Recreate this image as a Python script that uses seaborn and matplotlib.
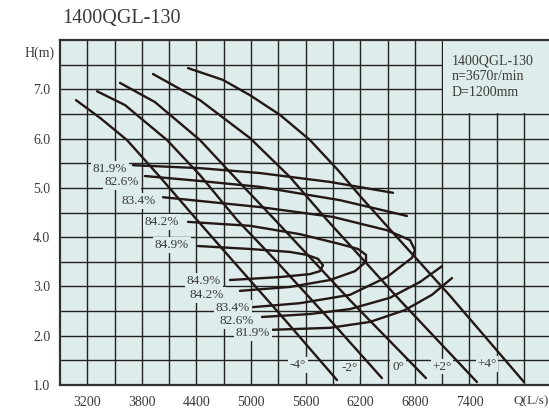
import numpy as np
import pandas as pd
import matplotlib
matplotlib.use("Agg")
import matplotlib.pyplot as plt
from matplotlib.patches import Rectangle
import seaborn as sns

# pump curves (Q in L/s, H in m) for each blade angle
angles = ["-4°", "-2°", "0°", "+2°", "+4°"]
q_m4 = [3076, 3340, 3636, 3999, 4405, 4790, 5373, 5944]
h_m4 = [6.78, 6.42, 5.97, 5.22, 4.35, 3.54, 2.32, 1.10]
q_m2 = [3307, 3614, 4076, 4438, 4845, 5263, 5867, 6438]
h_m2 = [6.96, 6.68, 5.97, 5.26, 4.35, 3.54, 2.32, 1.14]
q_0 = [3559, 3944, 4438, 4878, 5263, 6087, 6922]
h_0 = [7.13, 6.74, 5.97, 5.10, 4.35, 2.72, 1.14]
q_p2 = [3922, 4438, 4988, 5427, 5834, 6636, 7482]
h_p2 = [7.31, 6.78, 6.01, 5.22, 4.35, 2.72, 1.06]
q_p4 = [4307, 4691, 4988, 5318, 5647, 5955, 6219, 6471, 7186, 7999]
h_p4 = [7.43, 7.19, 6.88, 6.48, 5.97, 5.36, 4.79, 4.27, 2.81, 1.06]

# efficiency contours
q_819a = [3702, 4438, 5098, 5867, 6559]
h_819a = [5.46, 5.40, 5.30, 5.12, 4.90]
q_826a = [3834, 4438, 5098, 5977, 6713]
h_826a = [5.24, 5.14, 5.02, 4.75, 4.43]
q_834 = [4032, 5098, 5900, 6493, 6746, 6801, 6768, 6493, 6087, 5537, 5021]
h_834 = [4.81, 4.61, 4.41, 4.14, 3.94, 3.74, 3.58, 3.19, 2.83, 2.66, 2.58]
q_842 = [4307, 4988, 5537, 5977, 6175, 6263, 6263, 6142, 5867, 5427, 4878]
h_842 = [4.31, 4.23, 4.06, 3.86, 3.76, 3.64, 3.50, 3.31, 3.13, 2.99, 2.91]
q_849 = [4416, 4988, 5427, 5614, 5735, 5790, 5757, 5647, 5318, 4768]
h_849 = [3.82, 3.76, 3.70, 3.64, 3.56, 3.43, 3.31, 3.25, 3.19, 3.13]
q_826b = [5120, 5647, 6087, 6526, 6856, 7098]
h_826b = [2.38, 2.44, 2.54, 2.77, 3.09, 3.41]
q_819b = [5230, 5867, 6307, 6691, 6988, 7208]
h_819b = [2.12, 2.16, 2.28, 2.52, 2.83, 3.17]

eff_labels_top = ["81.9%", "82.6%", "83.4%", "84.2%", "84.9%"]
eff_top_q = [3449, 3581, 3768, 4021, 4131]
eff_top_h = [5.38, 5.12, 4.73, 4.31, 3.84]
eff_labels_bot = ["84.9%", "84.2%", "83.4%", "82.6%", "81.9%"]
eff_bot_q = [4482, 4515, 4801, 4845, 5021]
eff_bot_h = [3.11, 2.83, 2.56, 2.30, 2.05]
angle_q = [5515, 6087, 6614, 7098, 7592]
angle_h = [1.41, 1.34, 1.37, 1.37, 1.43]

x_ticks = [3200, 3800, 4400, 5000, 5600, 6200, 6800, 7400]
y_ticks = [1.0, 2.0, 3.0, 4.0, 5.0, 6.0, 7.0]

bg = "#deecec"
ink = "#231815"
txt = "#3a3a3a"
serif = "Liberation Serif"

sns.set_style("white")
plt.rcParams["font.family"] = [serif, "DejaVu Sans"]

fig = plt.figure(figsize=(5.49, 4.09), dpi=100)
ax = fig.add_axes([60 / 549, 24 / 409, 489 / 549, 345 / 409])
ax.set_facecolor(bg)
ax.set_xlim(2900, 8274)
ax.set_ylim(1.0, 8.0)

ax.set_xticks(x_ticks)
ax.set_xticklabels([str(v) for v in x_ticks])
ax.set_xticks(np.arange(3200, 8300, 300), minor=True)
ax.set_yticks(y_ticks)
ax.set_yticklabels([f"{v:.1f}" for v in y_ticks])
ax.set_yticks(np.arange(1.5, 8.0, 0.5), minor=True)
ax.grid(which="both", color="#222222", lw=1.0, zorder=0)
ax.set_axisbelow(True)
ax.tick_params(which="both", length=0)
ax.tick_params(axis="x", pad=8, labelsize=10, labelcolor=txt)
ax.tick_params(axis="y", pad=7, labelsize=10, labelcolor=txt)
for s in ["left", "top", "bottom"]:
    ax.spines[s].set_color("#333333")
    ax.spines[s].set_linewidth(1.6)
ax.spines["right"].set_visible(False)

# info box over grid
ax.add_patch(Rectangle((7110, 6.51), 1300, 1.6, facecolor=bg, edgecolor="none", zorder=1))
ax.text(7208, 7.25, "1400QGL-130\nn=3670r/min\nD=1200mm", fontsize=10, color=txt,
        va="center", ha="left", linespacing=1.25, zorder=2)

curves = [(q_m4, h_m4), (q_m2, h_m2), (q_0, h_0), (q_p2, h_p2), (q_p4, h_p4),
          (q_819a, h_819a), (q_826a, h_826a), (q_834, h_834), (q_842, h_842),
          (q_849, h_849), (q_826b, h_826b), (q_819b, h_819b)]
for q, h in curves:
    df = pd.DataFrame({"Q": q, "H": h})
    sns.lineplot(data=df, x="Q", y="H", sort=False, estimator=None, color=ink,
                 lw=1.7, ax=ax, zorder=3)

box = dict(facecolor=bg, edgecolor="none", pad=1.2)
for lab, q, h in zip(eff_labels_top + eff_labels_bot, eff_top_q + eff_bot_q,
                     eff_top_h + eff_bot_h):
    ax.text(q, h, lab, fontsize=9.5, color=txt, ha="center", va="center", bbox=box, zorder=4)
for lab, q, h in zip(angles, angle_q, angle_h):
    ax.text(q, h, lab, fontsize=9.5, color=txt, ha="center", va="center", bbox=box, zorder=4)

ax.set_xlabel("")
ax.set_ylabel("")
fig.text(40 / 549, 1 - 53 / 409, "H(m)", fontsize=10, color=txt, ha="center", va="center")
fig.text(513 / 549, 1 - 401 / 409, "Q(L/s)", fontsize=9.5, color=txt, ha="left", va="center")
fig.text(62 / 549, 1 - 18 / 409, "1400QGL-130", fontsize=14.5, color=txt, ha="left", va="center")

plt.savefig("out.png", dpi=100)
